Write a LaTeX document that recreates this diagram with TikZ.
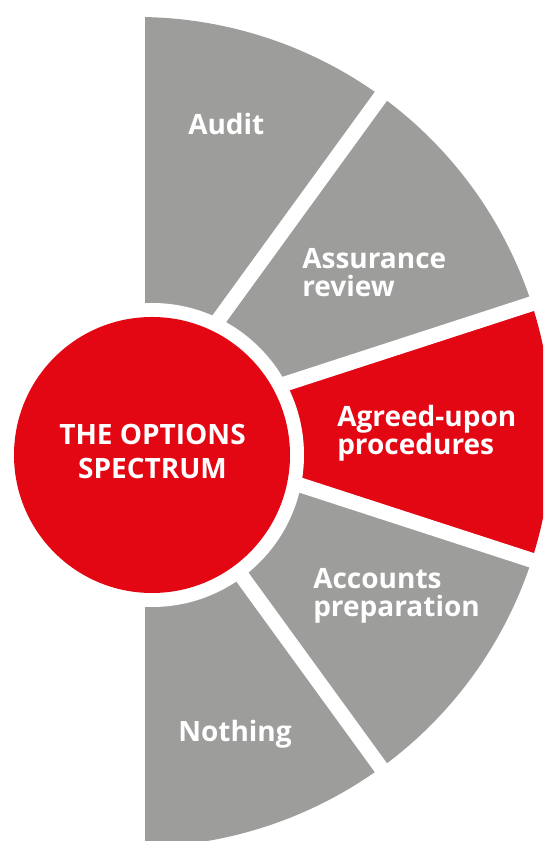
\documentclass[tikz,border=0pt]{standalone}
\usepackage{fontspec}
\setmainfont{Open Sans}
\definecolor{fangray}{RGB}{157,157,156}
\definecolor{fanred}{RGB}{227,6,19}
\begin{document}
\begin{tikzpicture}[x=0.75pt,y=0.75pt,
  gapline/.style={draw=white,line width=11.25pt},
  lbl/.style={text=white,font=\bfseries\fontsize{21}{21}\selectfont,inner sep=0pt,align=left,anchor=base west}]
\useasboundingbox (0,0) rectangle (543,841);
\clip (0,0) rectangle (543,841);
\coordinate (C) at (137,409);
% sectors
\fill[fangray] (C) -- ++(-90:415) arc[start angle=-90,end angle=-54,radius=415] -- cycle;
\fill[fangray] (C) -- ++(-54:415) arc[start angle=-54,end angle=-18,radius=415] -- cycle;
\fill[fanred]  (C) -- ++(-18:415) arc[start angle=-18,end angle=18,radius=415] -- cycle;
\fill[fangray] (C) -- ++(18:415) arc[start angle=18,end angle=54,radius=415] -- cycle;
\fill[fangray] (C) -- ++(54:415) arc[start angle=54,end angle=90,radius=415] -- cycle;
% white gaps
\foreach \a in {-90,-54,-18,18,54,90} \draw[gapline] (C) -- ++(\a:440);
% centre circle
\fill[white] (152,386) circle[radius=152];
\node (hub) [circle,fill=fanred,minimum size=207pt,inner sep=0pt] at (152,386) {};
\node (title) [text=white,font=\bfseries\fontsize{21}{25.5}\selectfont,inner sep=0pt,align=center,anchor=base] at (152.5,362) {THE OPTIONS\\SPECTRUM};
% labels
\node (audit) [lbl] at (188,706) {Audit};
\node (assurance) [lbl] at (302,544) {Assurance\\review};
\node (aup) [lbl] at (337,386) {Agreed-upon\\procedures};
\node (accounts) [lbl] at (313,224) {Accounts\\preparation};
\node (nothing) [lbl] at (178,99) {Nothing};
\end{tikzpicture}
\end{document}
